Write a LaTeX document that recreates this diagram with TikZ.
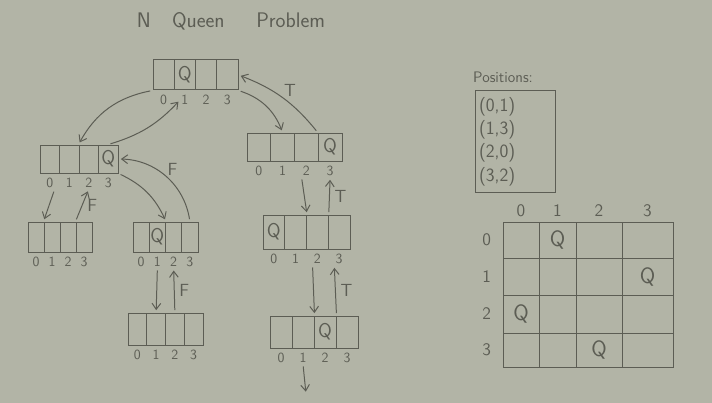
\documentclass[tikz,border=0pt]{standalone}
\usepackage{tikz}
\usetikzlibrary{positioning,arrows.meta}

\definecolor{board}{RGB}{178,180,166}
\definecolor{pencil}{RGB}{92,93,84}

% one 4-cell array: name, left x, centre y, cell width, cell height, queen cell
\newcommand{\qrow}[6]{%
  \foreach \i in {0,...,3}{
    \node[cell, minimum width={#4*0.03cm}, minimum height={#5*0.03cm}]
      (#1-\i) at ({#2+(\i+0.5)*#4},#3) {\ifnum\i=#6 Q\fi};
    \node[idx, below=1mm of #1-\i] (#1-l\i) {\i};
  }%
}

\begin{document}
\begin{tikzpicture}[
x=0.03cm, y=-0.03cm,
cell/.style={draw=pencil, line width=0.85pt, inner sep=0pt, text=pencil, font=\fontsize{17}{17}\selectfont\sffamily},
idx/.style={text=pencil, inner sep=1pt, font=\fontsize{12}{12}\selectfont\sffamily},
lbl/.style={text=pencil, inner sep=1pt, font=\fontsize{15}{15}\selectfont\sffamily},
arr/.style={-{Straight Barb[length=1.8mm,width=2.6mm]}, draw=pencil, line width=0.85pt, shorten >=2pt, shorten <=2pt},
sq/.style={draw=pencil, line width=0.85pt, inner sep=0pt},
queen/.style={text=pencil, font=\fontsize{19}{19}\selectfont\sffamily},
gridnum/.style={text=pencil, inner sep=1pt, font=\fontsize{15}{15}\selectfont\sffamily}
]
\fill[board] (0,0) rectangle (712,403);
\useasboundingbox (0,0) rectangle (712,403);

\node[text=pencil, font=\fontsize{18}{20}\selectfont\sffamily] (title) at (231,21) {N\quad Queen\quad\enspace Problem};

% search tree
\qrow{root}{153}{75}{21.25}{30}{1}
\qrow{b}{40}{159}{19.5}{28}{3}
\qrow{c}{247}{147}{23.75}{28}{3}
\qrow{d}{28}{237}{16}{30}{-1}
\qrow{e}{133}{237}{16.25}{30}{1}
\qrow{f}{128}{329}{18.75}{32}{-1}
\qrow{g}{263}{232}{21.75}{34}{0}
\qrow{h}{270}{332}{22}{32}{2}

\draw[arr] (root-0.south west) to[bend right=25] (b-2.north west);
\draw[arr] (b-3.north) to[bend right=15] (root-l1.west);
\draw[arr] (root-3.south east) to[bend left=25] (c-1.north);
\draw[arr] (c-3.north west) to[bend right=15] node[lbl, above right=0pt] (t1) {T} (root-3.east);

\draw[arr] (b-l0.south east) -- (d-1.north west);
\draw[arr] (d-3.north west) -- node[lbl, right=3pt] (f1) {F} (b-l2.south);
\draw[arr] (b-3.south east) to[bend left=20] (e-1.north east);
\draw[arr] (e-3.north) to[bend right=40] node[lbl, above right=0pt] (f2) {F} (b-3.east);

\draw[arr] (e-l1.south) -- (f-1.north);
\draw[arr] (f-2.north) -- node[lbl, right=3pt] (f3) {F} (e-l2.south);

\draw[arr] (c-l2.south west) -- (g-1.north east);
\draw[arr] (g-2.north east) -- node[lbl, right=3pt] (t2) {T} (c-l3.south);
\draw[arr] (g-l2.south west) -- (h-1.north east);
\draw[arr] (h-2.north east) -- node[lbl, right=3pt] (t3) {T} (g-l3.south west);

\coordinate (hend) at (306,394);
\draw[arr] (h-l1.south) -- (hend);

% solution
\node[text=pencil, anchor=west, inner sep=0pt, font=\fontsize{13}{13}\selectfont\sffamily] (postitle) at (473,77) {Positions:};
\node[draw=pencil, line width=0.85pt, anchor=north west, text=pencil, align=left,
      text width=2.2cm, minimum height=3.06cm, inner sep=3pt,
      font=\fontsize{16}{20}\selectfont\sffamily] (posbox) at (475,90)
      {(0,1)\\(1,3)\\(2,0)\\(3,2)};

\foreach \r/\ry/\rh in {0/240/36,1/276.5/37,2/314/38,3/350/34}
  \foreach \c/\cx/\cw in {0/521/36,1/557.5/37,2/599/46,3/647.5/51}
    \node[sq, minimum width={\cw*0.03cm}, minimum height={\rh*0.03cm}] (sq-\r-\c) at (\cx,\ry) {};
\foreach \c in {0,...,3}
  \node[gridnum, above=1mm of sq-0-\c] (col\c) {\c};
\foreach \r in {0,...,3}
  \node[gridnum, left=3mm of sq-\r-0] (row\r) {\r};
\foreach \r/\c in {0/1,1/3,2/0,3/2}
  \node[queen] (q\r) at (sq-\r-\c) {Q};
\end{tikzpicture}
\end{document}
